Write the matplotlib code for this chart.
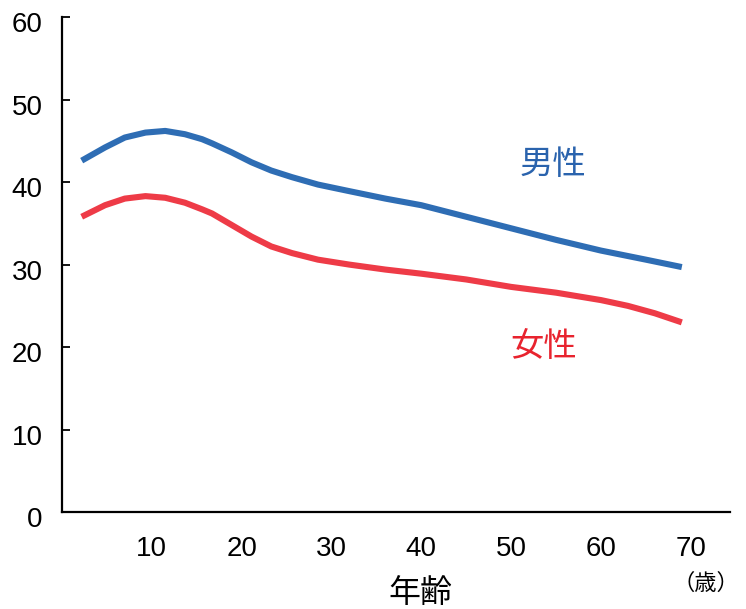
import matplotlib
matplotlib.use("Agg")
import matplotlib.pyplot as plt
from matplotlib.transforms import ScaledTranslation

plt.rcParams["font.family"] = ["Liberation Sans", "Noto Sans CJK JP"]

# 年齢ごとの値
age_male = [2.2, 4.8, 7.0, 9.3, 11.5, 13.7, 15.6, 16.7, 18.9, 21.1, 23.3, 25.6,
            28.5, 32, 36, 40, 45, 50, 55, 60, 65, 69]
male = [42.6, 44.2, 45.4, 46.0, 46.2, 45.8, 45.2, 44.7, 43.6, 42.4, 41.4, 40.6,
        39.7, 38.9, 38.0, 37.2, 35.8, 34.4, 33.0, 31.7, 30.6, 29.7]
age_female = [2.2, 4.8, 7.0, 9.3, 11.5, 13.7, 15.6, 16.7, 18.9, 21.1, 23.3, 25.6,
              28.5, 32, 36, 40, 45, 50, 55, 60, 63, 66, 69]
female = [35.8, 37.2, 38.0, 38.3, 38.1, 37.5, 36.7, 36.2, 34.8, 33.4, 32.2, 31.4,
          30.6, 30.0, 29.4, 28.9, 28.2, 27.3, 26.6, 25.7, 25.0, 24.1, 23.0]

x_ticks = [10, 20, 30, 40, 50, 60, 70]
y_ticks = [0, 10, 20, 30, 40, 50, 60]

fig = plt.figure(figsize=(7.46, 6.09), dpi=100)
ax = fig.add_axes([0.083, 0.159, 0.896, 0.813])

ax.plot(age_male, male, color="#2e6db4", lw=4.4, solid_capstyle="butt",
        solid_joinstyle="round")
ax.plot(age_female, female, color="#ee3b47", lw=4.4, solid_capstyle="butt",
        solid_joinstyle="round")

ax.text(54.6, 42.0, "男性", color="#2a63ad", fontsize=24, ha="center", va="center")
ax.text(53.6, 20.0, "女性", color="#e8232e", fontsize=24, ha="center", va="center")

ax.set_xlim(0, 74.4)
ax.set_ylim(0, 60)
ax.set_xticks(x_ticks)
ax.set_yticks(y_ticks)
ax.tick_params(axis="x", length=0, pad=17, labelsize=20)
ax.tick_params(axis="y", direction="in", length=6, width=1.3, pad=14, labelsize=20)

# 目盛り数字を少し下へずらす
shift = ScaledTranslation(0, -5 / 100, fig.dpi_scale_trans)
for lab in ax.get_yticklabels():
    lab.set_transform(lab.get_transform() + shift)

for side in ["top", "right"]:
    ax.spines[side].set_visible(False)
for side in ["left", "bottom"]:
    ax.spines[side].set_linewidth(1.6)

fig.text(420 / 746, 1 - 594 / 609, "年齢", fontsize=23, ha="center", va="center")
fig.text(706 / 746, 1 - 584 / 609, "（歳）", fontsize=16, ha="center", va="center")

fig.savefig("out.png", dpi=100)
